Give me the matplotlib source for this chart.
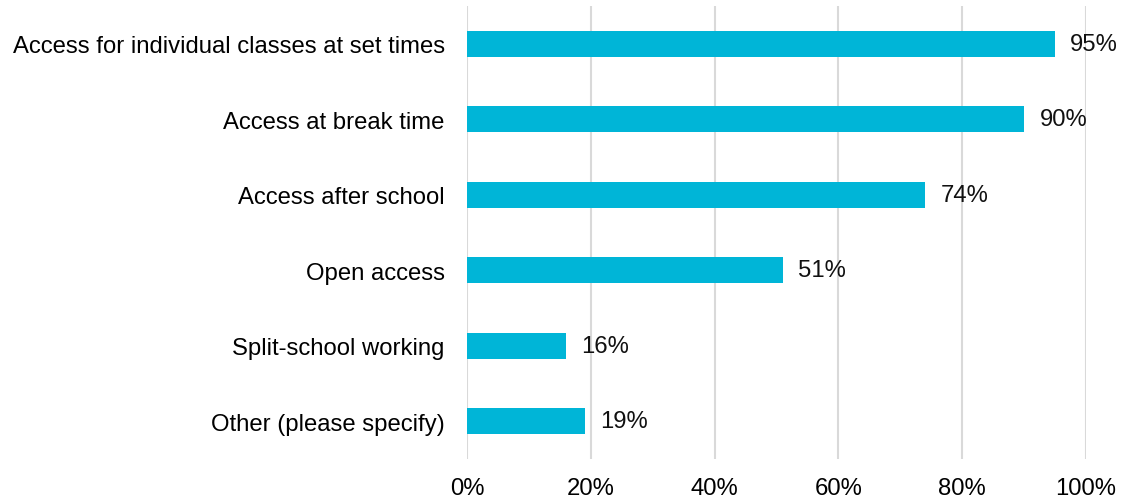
import matplotlib.pyplot as plt
import numpy as np

plt.rcParams['font.family'] = ['Liberation Sans', 'DejaVu Sans']

categories = ["Access for individual classes at set times",
              "Access at break time",
              "Access after school",
              "Open access",
              "Split-school working",
              "Other (please specify)"]
values = [95, 90, 74, 51, 16, 19]
xticks = [0, 20, 40, 60, 80, 100]

fig = plt.figure(figsize=(11.25, 5.02), dpi=100)
ax = fig.add_axes([467/1125, 1-460/502, (1086-467)/1125, (460-7)/502])

y = np.arange(len(categories))
ax.barh(y, values, height=0.345, color='#00B5D7', zorder=3)
for yi, v in zip(y, values):
    ax.annotate(f"{v}%", (v, yi), xytext=(11, 0), textcoords='offset points',
                va='center', ha='left', fontsize=17.2, color='#111111')

ax.set_ylim(len(categories)-0.5, -0.5)
ax.set_xlim(0, 100)
ax.set_yticks(y)
ax.set_yticklabels(categories, fontsize=17.2)
ax.set_xticks(xticks)
ax.set_xticklabels([f"{t}%" for t in xticks], fontsize=17.2)
ax.tick_params(length=0)
ax.tick_params(axis='y', pad=16)
ax.tick_params(axis='x', pad=13)
ax.grid(axis='x', color='#D9D9D9', linewidth=1.5, zorder=0)
for s in ax.spines.values():
    s.set_visible(False)

fig.savefig("out.png", dpi=100)
